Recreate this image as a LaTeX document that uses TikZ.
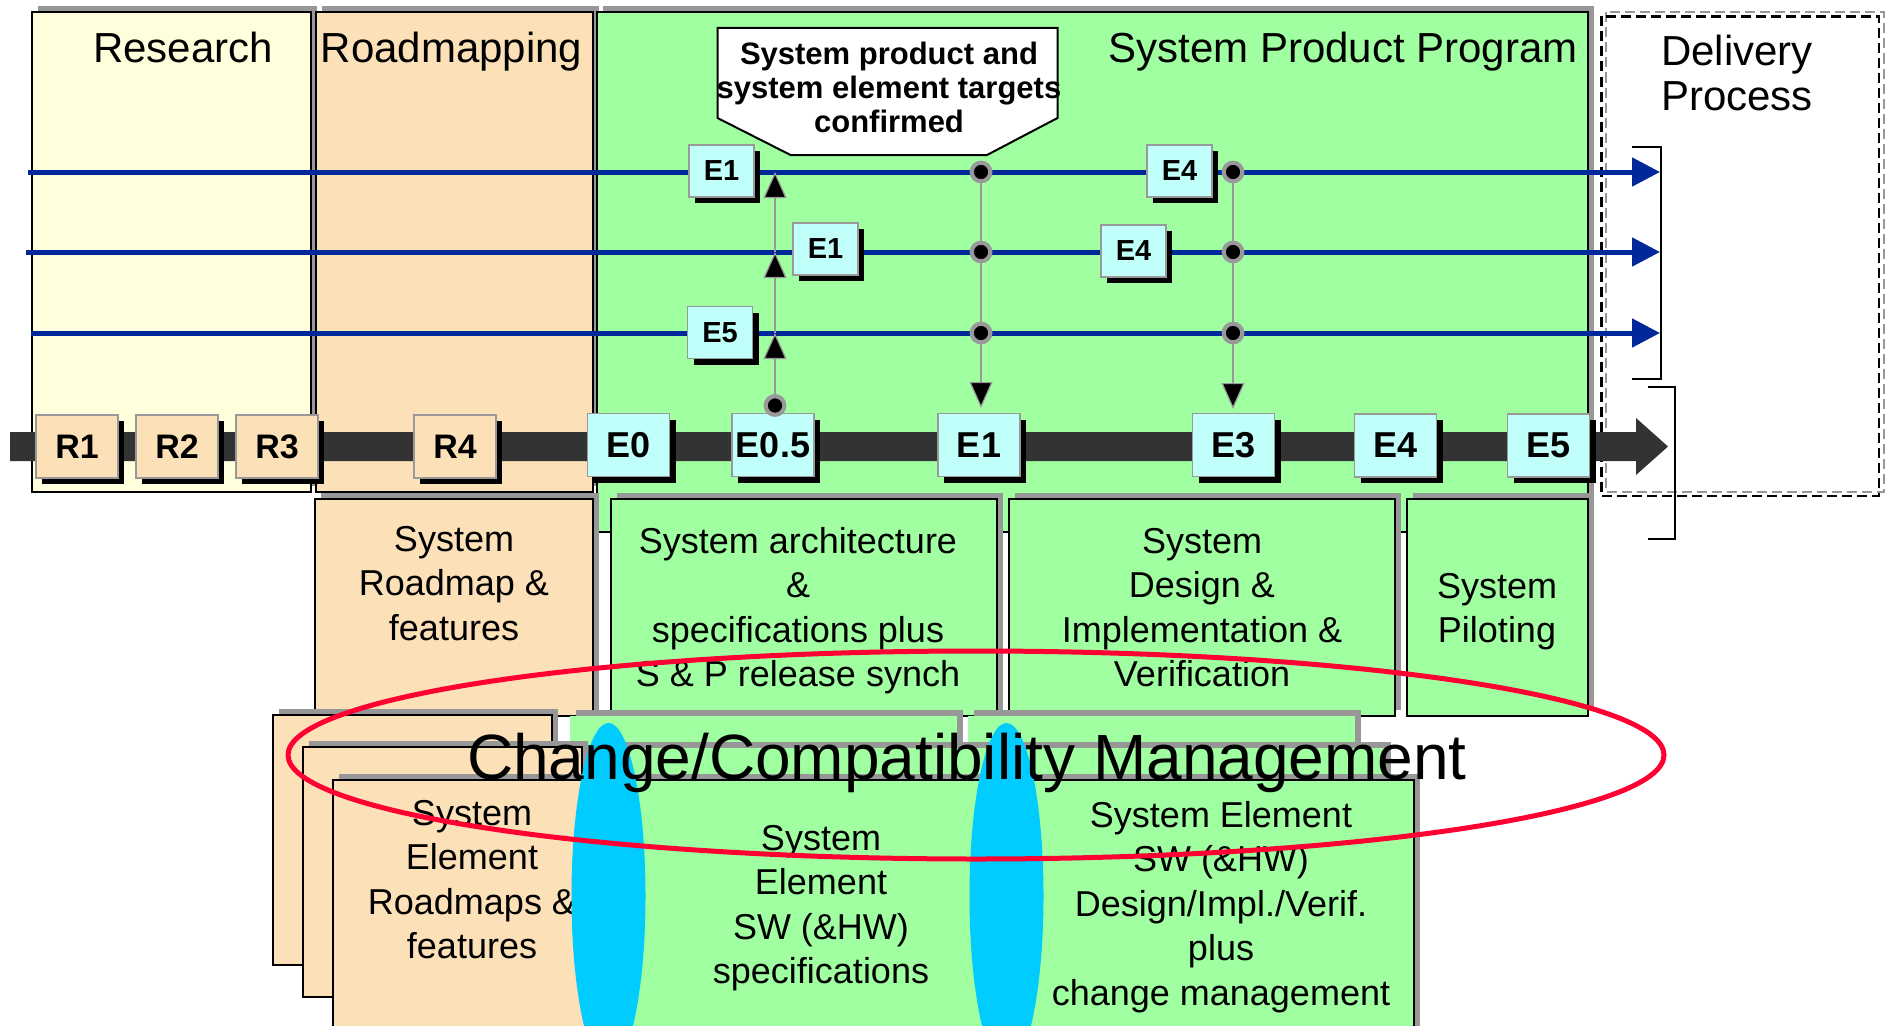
\documentclass[tikz,border=0pt]{standalone}
\usepackage{fontspec}
\setmainfont{Liberation Sans}
\usetikzlibrary{shadows,arrows.meta}
\definecolor{rescol}{HTML}{FFFFDC}
\definecolor{tancol}{HTML}{FCE0B8}
\definecolor{grncol}{HTML}{A0FFA0}
\definecolor{cyncol}{HTML}{C0FFFA}
\definecolor{shgray}{HTML}{979797}
\definecolor{msgray}{HTML}{999999}
\definecolor{bluecol}{HTML}{00289A}
\definecolor{barcol}{HTML}{333333}
\definecolor{redcol}{HTML}{FF0033}
\definecolor{ellcol}{HTML}{00CCFF}
\newcommand{\myfs}[2]{\fontsize{#1}{#2}\selectfont}
\newcommand{\mlc}[1]{\begin{tabular}[t]{@{}c@{}}#1\end{tabular}}
\newcommand{\mll}[1]{\begin{tabular}[t]{@{}l@{}}#1\end{tabular}}
\begin{document}
\begin{tikzpicture}[x=1pt,y=-1pt,
  gshadow/.style={drop shadow={shadow xshift=6pt,shadow yshift=6pt,fill=shgray,opacity=1}},
  bshadow/.style={drop shadow={shadow xshift=6pt,shadow yshift=-6pt,fill=black,opacity=1}},
  area/.style={rectangle,inner sep=0pt,outer sep=0pt,draw=black,line width=1.5pt,gshadow},
  backbox/.style={rectangle,inner sep=0pt,outer sep=0pt,draw=none,fill=grncol,gshadow},
  ms/.style={rectangle,inner sep=0pt,draw=msgray,line width=1.5pt,minimum width=82,minimum height=63,font=\bfseries\myfs{34}{40},bshadow},
  mse/.style={ms,fill=cyncol,font=\bfseries\myfs{36}{40}},
  sms/.style={ms,minimum width=65,minimum height=52,font=\bfseries\myfs{29}{34},fill=cyncol},
  title/.style={inner sep=0pt,anchor=base,font=\myfs{42}{45}},
  body/.style={inner sep=0pt,anchor=base,font=\myfs{36}{44.5}},
  blueline/.style={draw=bluecol,line width=5pt,-{Triangle[length=28pt,width=28pt]}},
  vcon/.style={draw=msgray,line width=2.5pt},
  vtip/.style={-{Triangle[length=26pt,width=23pt,fill=black,line width=1.2pt]}},
  dotn/.style={circle,fill=black,draw=msgray,line width=4pt,minimum size=18.5pt,inner sep=0pt},
  brk/.style={draw=black,line width=2pt}
]
\path[use as bounding box,fill=white] (0,0) rectangle (1892,1025);

% big phase areas
\node[area,fill=rescol,minimum width=279,minimum height=480] (research) at (171.5,252) {};
\node[area,fill=tancol,minimum width=277,minimum height=480] (roadmapping) at (454.5,252) {};
\node[area,fill=grncol,minimum width=991,minimum height=520] (spp) at (1092.5,272) {};

% upper activity boxes
\node[area,fill=tancol,minimum width=278,minimum height=217] (roadbox) at (454,607.5) {};
\node[area,fill=grncol,minimum width=386,minimum height=217] (archbox) at (804,607.5) {};
\node[area,fill=grncol,minimum width=386,minimum height=217] (desbox) at (1202,607.5) {};
\node[area,fill=grncol,minimum width=181,minimum height=217] (pilbox) at (1497.5,607.5) {};

% delivery process dashed box
\draw[shgray,line width=2pt,dash pattern=on 10pt off 5pt] (1606,12.5) rectangle (1884,491.5);
\draw[black,line width=2.2pt,dash pattern=on 10pt off 5pt] (1601.5,16.5) rectangle (1879,496);

% titles
\node[title] (tres) at (183,63) {Research};
\node[title] (troad) at (451.5,63) {Roadmapping};
\node[title] (tspp) at (1343,62.5) {System Product Program};
\node[title,anchor=base west] (tdel) at (1661,66) {\mll{Delivery\\Process}};

% main timeline
\fill[barcol] (10,432) -- (1636,432) -- (1636,418) -- (1668,446.5) -- (1636,475) -- (1636,461) -- (10,461) -- cycle;
\node[ms,fill=tancol] (mR1) at (77,446.5) {R1};
\node[ms,fill=tancol] (mR2) at (177,446.5) {R2};
\node[ms,fill=tancol] (mR3) at (277,446.5) {R3};
\node[ms,fill=tancol] (mR4) at (455,446.5) {R4};
\node[mse] (mE0) at (628.5,445) {E0};
\node[mse] (mE05) at (773,445) {E0.5};
\node[mse] (mE1) at (979,445) {E1};
\node[mse] (mE3) at (1233.5,445) {E3};
\node[mse] (mE4) at (1395.5,445.5) {E4};
\node[mse] (mE5) at (1548.5,445.5) {E5};

% element lines
\coordinate (b1s) at (28,172);  \coordinate (b1e) at (1660,172);
\coordinate (b2s) at (26,252);  \coordinate (b2e) at (1660,252);
\coordinate (b3s) at (31,333);  \coordinate (b3e) at (1660,333);
\draw[blueline] (b1s) -- (b1e);
\draw[blueline] (b2s) -- (b2e);
\draw[blueline] (b3s) -- (b3e);

% brackets
\draw[brk] (1632,147) -- (1661,147) -- (1661,379) -- (1632,379);
\draw[brk] (1648,387) -- (1675,387) -- (1675,539) -- (1648,539);

% vertical connectors
\coordinate (u3) at (775,333);
\coordinate (u2) at (775,252);
\coordinate (u1) at (775,172);
\coordinate (t1) at (981,408);
\coordinate (t3) at (1233,409);
\node[dotn] (d0) at (775,405.5) {};
\node[dotn] (d11) at (981,172) {};
\node[dotn] (d12) at (981,252) {};
\node[dotn] (d13) at (981,333) {};
\node[dotn] (d31) at (1233,172) {};
\node[dotn] (d32) at (1233,252) {};
\node[dotn] (d33) at (1233,333) {};
\draw[vcon,vtip] (d0) -- (u3);
\draw[vcon,vtip] (u3) -- (u2);
\draw[vcon,vtip] (u2) -- (u1);
\draw[vcon] (d11) -- (d12);
\draw[vcon] (d12) -- (d13);
\draw[vcon,vtip] (d13) -- (t1);
\draw[vcon] (d31) -- (d32);
\draw[vcon] (d32) -- (d33);
\draw[vcon,vtip] (d33) -- (t3);
\node[dotn] at (d0) {};
\node[dotn] at (d11) {};
\node[dotn] at (d12) {};
\node[dotn] at (d13) {};
\node[dotn] at (d31) {};
\node[dotn] at (d32) {};
\node[dotn] at (d33) {};

% small element milestones
\node[sms] (sE1a) at (721.5,171) {E1};
\node[sms] (sE1b) at (825.5,249) {E1};
\node[sms] (sE5) at (720,332.5) {E5};
\node[sms] (sE4a) at (1179.5,171) {E4};
\node[sms] (sE4b) at (1133.5,251) {E4};

% callout
\draw[fill=white,draw=black,line width=2pt] (717.5,28) -- (1057.5,28) -- (1057.5,118) -- (987,155) -- (790.5,155) -- (717.5,118) -- cycle;
\node[inner sep=0pt,anchor=base,font=\bfseries\myfs{31}{34}] (callt) at (889,65) {\mlc{System product and\\system element targets\\confirmed}};

% upper box texts
\node[body] (troadbox) at (454,551) {\mlc{System\\Roadmap \&\\features}};
\node[body] (tarch) at (798,553) {\mlc{System architecture\\\&\\specifications plus\\S \& P release synch}};
\node[body] (tdes) at (1202,553) {\mlc{System\\Design \&\\Implementation \&\\Verification}};
\node[body] (tpil) at (1497,598) {\mlc{System\\Piloting}};

% lower stacked boxes: back layer 1
\node[area,fill=tancol,minimum width=279,minimum height=250] (tanA) at (412.5,840) {};
\node[backbox,minimum width=387,minimum height=324] (specA) at (763.5,878) {};
\node[backbox,minimum width=387,minimum height=324] (desA) at (1161.5,878) {};
% back layer 2
\node[area,fill=tancol,minimum width=279,minimum height=250] (tanB) at (442.5,872) {};
\node[backbox,minimum width=387,minimum height=292] (specB) at (793,894) {};
\node[backbox,minimum width=387,minimum height=292] (desB) at (1191,894) {};
% front layer
\node[area,fill=tancol,minimum width=279,minimum height=260] (tanC) at (472.5,910) {};
\node[area,fill=grncol,minimum width=387,minimum height=260] (specC) at (822.5,910) {};
\node[area,fill=grncol,minimum width=387,minimum height=260] (desC) at (1220.5,910) {};

\node[body] (ttanC) at (472,825) {\mlc{System\\Element\\Roadmaps \&\\features}};
\node[body] (tspecC) at (821,850) {\mlc{System\\Element\\SW (\&HW)\\specifications}};
\node[body] (tdesC) at (1221,827) {\mlc{System Element\\SW (\&HW)\\Design/Impl./Verif.\\plus\\change management}};

% synchronisation ellipses
\fill[ellcol] (608.5,896) ellipse [x radius=37, y radius=173];
\fill[ellcol] (1006.5,896) ellipse [x radius=37, y radius=173];

% change management ring
\draw[redcol,line width=5pt] (976,755) ellipse [x radius=688, y radius=104];
\node[inner sep=0pt,anchor=base west,font=\myfs{64}{70}] (tccm) at (467,779) {Change/Compatibility Management};
\end{tikzpicture}
\end{document}
